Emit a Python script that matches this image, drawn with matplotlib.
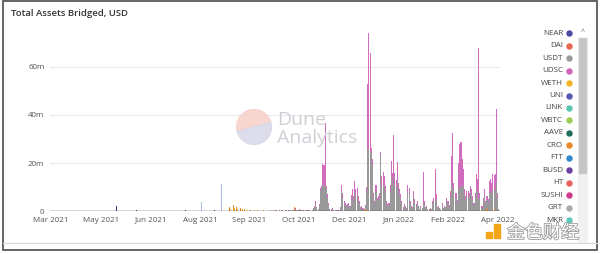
import matplotlib.pyplot as plt
import matplotlib.dates as mdates
import matplotlib.patheffects as pe
from matplotlib.patches import Wedge, Rectangle
import numpy as np
import pandas as pd

plt.rcParams['font.family'] = ['Open Sans', 'DejaVu Sans']

# daily values (millions USD) from 2021-10-01 to 2022-04-12
start_day = "2021-10-01"
usdt = [
    0.2, 0.1, 0.3, 0.1, 0.2, 0.3, 0.1, 0.2, 0.1, 0.3,
    0.2, 0.1, 0.3, 0.2, 0.1, 0.3, 0.2, 0.4, 0.2, 0.3,
    0.3, 0.8, 0.4, 0.3, 0.5, 0.3, 0.2, 0.4, 0.3, 0.2,
    0.3, 0.2, 0.3, 0.2, 0.1, 0.3, 0.9, 1.5, 3.0, 1.1,
    0.8, 2.2, 8.5, 9.5, 10.4, 11.0, 10.5, 9.0, 5.5, 2.5,
    0.7, 0.6, 1.0, 0.2, 0.1, 0.3, 0.2, 0.4, 0.4, 1.0,
    8.0, 5.5, 3.0, 2.5, 1.8, 2.0, 2.5, 1.5, 4.5, 6.0,
    4.0, 8.0, 6.0, 6.5, 4.0, 3.0, 1.0, 1.5, 1.0, 0.6,
    2.0, 8.0, 26.0, 26.0, 25.0, 24.0, 19.0, 6.0, 3.0, 8.0,
    4.0, 4.5, 5.5, 23.0, 10.0, 11.0, 10.0, 8.0, 3.0, 2.0,
    2.5, 8.0, 14.0, 11.0, 14.0, 11.0, 9.5, 12.0, 8.5, 6.5,
    5.0, 3.0, 1.0, 2.0, 1.5, 0.9, 8.0, 7.0, 3.0, 1.5,
    1.1, 6.0, 3.5, 2.0, 3.0, 1.5, 0.7, 1.5, 0.9, 3.0,
    3.0, 1.1, 1.5, 0.7, 0.6, 1.0, 0.7, 3.0, 4.0, 4.0,
    5.0, 1.1, 1.5, 1.0, 0.7, 2.5, 0.9, 1.5, 1.1, 4.0,
    3.0, 1.8, 6.0, 12.0, 10.0, 8.5, 5.5, 5.5, 3.2, 9.0,
    10.0, 10.0, 11.0, 10.0, 6.5, 4.5, 6.0, 6.0, 5.5, 7.5,
    6.5, 4.5, 2.5, 5.5, 9.0, 8.0, 5.0, 5.5, 1.4, 1.4,
    4.0, 6.5, 3.0, 4.5, 3.5, 7.0, 8.0, 7.5, 9.0, 8.0,
    9.0, 12.0, 5.5, 0.7,
]
usdc = [
    0.1, 0.1, 0.1, 0.1, 0.1, 0.2, 0.1, 0.1, 0.1, 0.1,
    0.1, 0.1, 0.2, 0.1, 0.1, 0.1, 0.1, 0.2, 0.1, 0.1,
    0.2, 0.5, 0.2, 0.1, 0.3, 0.2, 0.1, 0.2, 0.1, 0.1,
    0.1, 0.1, 0.2, 0.1, 0.1, 0.1, 0.3, 0.5, 1.2, 0.4,
    0.2, 0.8, 1.2, 1.0, 9.0, 8.0, 26.0, 1.4, 1.5, 1.0,
    0.3, 0.2, 0.4, 0.1, 0.1, 0.1, 0.1, 0.1, 0.2, 0.5,
    3.0, 2.1, 1.2, 1.0, 0.7, 0.8, 1.0, 0.7, 2.0, 3.0,
    2.2, 4.5, 3.0, 3.2, 2.2, 1.2, 0.5, 0.5, 0.4, 0.2,
    0.5, 2.0, 26.8, 48.3, 41.0, 2.4, 2.5, 1.6, 1.2, 3.0,
    1.5, 1.7, 2.1, 1.6, 4.6, 5.2, 4.6, 2.4, 1.2, 0.8,
    1.0, 3.0, 6.8, 5.0, 17.5, 5.0, 3.5, 8.4, 3.3, 2.5,
    1.9, 1.2, 0.5, 0.8, 0.5, 0.3, 3.0, 2.7, 1.2, 0.5,
    0.4, 2.3, 1.4, 0.8, 1.2, 0.5, 0.3, 0.5, 0.3, 13.2,
    1.2, 0.4, 0.5, 0.3, 0.2, 0.4, 0.3, 1.2, 1.5, 13.6,
    1.9, 0.4, 0.5, 0.4, 0.3, 1.0, 0.3, 0.5, 0.4, 1.5,
    1.2, 0.7, 2.3, 10.9, 22.6, 3.3, 2.1, 2.1, 1.3, 11.0,
    17.8, 18.7, 10.5, 7.6, 2.5, 1.7, 2.3, 2.3, 2.1, 2.9,
    2.5, 1.7, 1.0, 2.1, 6.3, 5.2, 63.0, 2.1, 0.6, 0.6,
    1.5, 2.5, 1.2, 1.7, 1.4, 5.5, 5.2, 4.3, 6.3, 6.9,
    6.6, 30.4, 2.1, 0.3,
]

# sparse series (date, millions USD)
cro_dates = ["2021-08-27", "2021-08-30", "2021-09-02", "2021-09-05", "2021-09-09",
             "2021-09-14", "2021-09-20", "2021-10-21", "2021-12-20", "2021-12-21",
             "2022-02-14", "2022-03-25", "2022-04-02", "2022-04-08"]
cro_vals = [1.6, 2.4, 1.8, 1.2, 0.8, 0.6, 0.5, 1.5, 0.8, 0.6, 0.5, 0.6, 0.7, 0.8]
weth_dates = ["2021-08-28", "2021-08-31", "2021-09-03", "2021-09-07", "2021-09-11",
              "2021-09-17", "2021-09-25"]
weth_vals = [1.0, 1.2, 1.0, 0.9, 0.6, 0.5, 0.4]
near_dates = ["2021-05-23", "2021-06-09", "2021-07-21", "2021-08-14"]
near_vals = [2.0, 0.5, 0.3, 0.5]
pale_dates = ["2021-08-03", "2021-08-20"]
pale_vals = [3.7, 11.3]

legend_names = ["NEAR", "DAI", "USDT", "UDSC", "WETH", "UNI", "LINK", "WBTC",
                "AAVE", "CRO", "FTT", "BUSD", "HT", "SUSHI", "GRT", "MKR"]
legend_colors = ["#4b4ba3", "#e8644c", "#9a9a9a", "#d264b8", "#f2b526", "#5558b2",
                 "#58c6b0", "#9ccc52", "#1f6e5a", "#e88a2a", "#2d88cc", "#6a40a2",
                 "#e8625c", "#cc3b8a", "#ababab", "#5cc8b8"]

W, H = 600, 254
fig = plt.figure(figsize=(6, 2.54), dpi=100)
ax = fig.add_axes([50 / W, 1 - 211 / H, 450 / W, 180 / H])

days = pd.date_range(start_day, periods=len(usdt))
usdt = np.array(usdt)
usdc = np.array(usdc)
bw = 0.9
ax.bar(days, usdt, width=bw, color="#999999", linewidth=0)
ax.bar(days, usdc, width=bw, bottom=usdt, color="#d16bbd", linewidth=0)
ax.bar(pd.to_datetime(cro_dates), cro_vals, width=bw, color="#e88a2a", linewidth=0)
ax.bar(pd.to_datetime(weth_dates), weth_vals, width=bw, bottom=0,
       color="#f2b526", linewidth=0)
ax.bar(pd.to_datetime(near_dates), near_vals, width=bw, color="#3b3b7a", linewidth=0)
ax.bar(pd.to_datetime(pale_dates), pale_vals, width=bw, color="#a9b8e6", linewidth=0)

ax.set_xlim(pd.Timestamp("2021-03-28"), pd.Timestamp("2022-04-13"))
ax.set_ylim(0, 75)
ax.axhline(0, color="#333333", lw=1.0, zorder=5)
ax.set_yticks([0, 20, 40, 60])
ax.set_yticklabels(["0", "20m", "40m", "60m"])
ax.grid(axis="y", color="#e8e8e8", lw=0.7)
ax.set_axisbelow(True)
ticks = pd.to_datetime(["2021-03-29", "2021-05-10", "2021-06-21", "2021-08-02",
                        "2021-09-13", "2021-10-25", "2021-12-06", "2022-01-17",
                        "2022-02-28", "2022-04-11"])
ax.set_xticks(ticks)
ax.xaxis.set_major_formatter(mdates.DateFormatter("%b %Y"))
ax.tick_params(length=0, labelsize=5.8, labelcolor="#555555", pad=4)
for s in ax.spines.values():
    s.set_visible(False)

# title
fig.text(11 / W, 1 - 14 / H, "Total Assets Bridged, USD", fontsize=6.8,
         fontweight="semibold", color="#333333", va="center")

# legend with scrollbar
for i, (n, c) in enumerate(zip(legend_names, legend_colors)):
    y = 33.3 + i * 12.45
    fig.text(563 / W, 1 - y / H, n, fontsize=5.8, color="#444444",
             ha="right", va="center")
    fig.add_artist(plt.Line2D([568.5 / W], [1 - y / H], marker="o", ms=3.6,
                              color=c, transform=fig.transFigure))
fig.patches.append(Rectangle((578 / W, 1 - 243 / H), 9 / W, 205 / H,
                             transform=fig.transFigure, color="#f1f1f1", figure=fig))
fig.patches.append(Rectangle((579 / W, 1 - 173 / H), 7 / W, 135 / H,
                             transform=fig.transFigure, color="#c6c6c6", figure=fig))
fig.text(582.5 / W, 1 - 32 / H, "^", fontsize=5, color="#666666",
         ha="center", va="center")

# Dune watermark
wax = fig.add_axes([236 / W, 1 - 145 / H, 36 / W, 36 / H])
wax.set_xlim(-1, 1)
wax.set_ylim(-1, 1)
wax.axis("off")
wax.add_patch(Wedge((0, 0), 0.97, 15, 195, color="#f7d2cb", alpha=0.9))
wax.add_patch(Wedge((0, 0), 0.97, 195, 375, color="#d9d9e8", alpha=0.9))
fig.text(277 / W, 1 - 120 / H, "Dune", fontsize=14, color="#cfcfd6", va="center")
fig.text(277 / W, 1 - 138 / H, "Analytics", fontsize=14, color="#cfcfd6", va="center")

# 金色财经 watermark
fig.patches.append(Rectangle((486 / W, 1 - 238 / H), 6 / W, 6 / H,
                             transform=fig.transFigure, color="#f2a516", figure=fig))
fig.patches.append(Rectangle((494 / W, 1 - 238 / H), 6 / W, 14 / H,
                             transform=fig.transFigure, color="#f2a516", figure=fig))
fig.text(543 / W, 1 - 233 / H, "金色财经", fontsize=13, color="white",
         family=["Noto Sans CJK SC", "DejaVu Sans"], ha="center", va="center",
         path_effects=[pe.withStroke(linewidth=1.2, foreground="#9a9a9a")])

# card frame
fig.patches.append(Rectangle((3 / W, 1 - 250 / H), 594 / W, 249 / H, fill=False,
                             transform=fig.transFigure, ec="#4a4a4a", lw=1.2, figure=fig))
fig.lines.append(plt.Line2D([3 / W, 597 / W], [1 - 243 / H, 1 - 243 / H],
                            transform=fig.transFigure, color="#d8d8d8", lw=0.8))

fig.savefig("out.png", dpi=100)
